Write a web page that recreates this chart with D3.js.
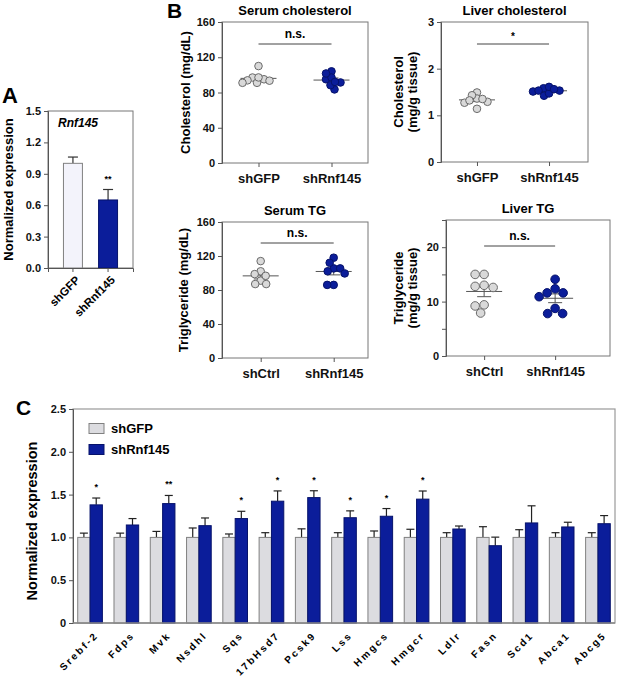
<!DOCTYPE html>
<html>
<head>
<meta charset="utf-8">
<script src="https://cdn.jsdelivr.net/npm/d3@7"></script>
<style>
  body { margin: 0; background: #fff; }
  svg { display: block; font-family: Arial, "Liberation Sans", sans-serif; font-weight: bold; }
</style>
</head>
<body>
<svg id="fig" width="617" height="678"></svg>
<script>
// ---- panel A data
const aGroups = ["shGFP", "shRnf145"];
const aMeans = [1.0, 0.65];
const aErr = [0.06, 0.10];
const aTicks = [0, 0.3, 0.6, 0.9, 1.2, 1.5];

// ---- panel B data (individual animals)
const serumCholGFP = [97, 95, 93.8, 91, 91, 93.4, 97.1, 110];
const serumCholRnf = [104, 91.4, 95, 83.5, 88.3, 97, 101.6, 92];
const liverCholGFP = [1.49, 1.29, 1.36, 1.14, 1.27, 1.43, 1.35, 1.32];
const liverCholRnf = [1.51, 1.58, 1.53, 1.42, 1.47, 1.61, 1.53, 1.56];
const serumTgCtrl = [114, 102, 98.7, 91, 87, 87, 96.7];
const serumTgRnf = [118, 105.4, 112, 102, 105.4, 99.5, 86, 86];
const liverTgCtrl = [15, 15, 12.8, 12.6, 13, 9.4, 9.2, 7.9];
const liverTgRnf = [14.1, 12.35, 11.6, 11.6, 10.9, 8.75, 7.8, 7.8];

// ---- panel C data
const genes = ["Srebf-2", "Fdps", "Mvk", "Nsdhl", "Sqs", "17bHsd7", "Pcsk9", "Lss",
  "Hmgcs", "Hmgcr", "Ldlr", "Fasn", "Scd1", "Abca1", "Abcg5"];
const gfpVals = [1, 1, 1, 1, 1, 1, 1, 1, 1, 1, 1, 1, 1, 1, 1];
const gfpErr = [0.05, 0.05, 0.07, 0.11, 0.04, 0.055, 0.10, 0.055, 0.075, 0.095, 0.055, 0.125, 0.09, 0.055, 0.055];
const rnfVals = [1.38, 1.145, 1.395, 1.137, 1.22, 1.423, 1.465, 1.23, 1.247, 1.447, 1.098, 0.903, 1.169, 1.122, 1.16];
const rnfErr = [0.08, 0.075, 0.095, 0.09, 0.085, 0.12, 0.08, 0.08, 0.09, 0.095, 0.035, 0.10, 0.20, 0.055, 0.095];
const rnfSig = ["*", "", "**", "", "*", "*", "*", "*", "*", "*", "", "", "", "", ""];
const cTicks = [0, 0.5, 1.0, 1.5, 2.0, 2.5];

const BLUE = "#0b1d9a", BLUE_DARK = "#06126a";
const GREY_FILL = "#dcdce0", GREY_LINE = "#808080";
const AX = "#555", BORDER = "#777";

const svg = d3.select("#fig");

function styleAxis(g) {
  g.select(".domain").attr("stroke", AX);
  g.selectAll(".tick line").attr("stroke", AX);
  g.selectAll(".tick text").attr("fill", "#111").attr("font-weight", "bold");
}

function panelLabel(txt, x, y, size) {
  svg.append("text").attr("x", x).attr("y", y).attr("font-size", size)
    .attr("fill", "#000").text(txt);
}

// ================= PANEL A =================
(function () {
  const L = 48, R = 133, T = 111, B = 268;
  const x = d3.scaleBand().domain(aGroups).range([L, R]).paddingInner(0.46).paddingOuter(0.44);
  const y = d3.scaleLinear().domain([0, 1.5]).range([B, T]);
  const g = svg.append("g");

  g.append("rect").attr("x", L).attr("y", T).attr("width", R - L).attr("height", B - T)
    .attr("fill", "none").attr("stroke", BORDER);

  // error bars (up only)
  aGroups.forEach((k, i) => {
    const cx = x(k) + x.bandwidth() / 2;
    g.append("line").attr("x1", cx).attr("x2", cx).attr("y1", y(aMeans[i])).attr("y2", y(aMeans[i] + aErr[i]))
      .attr("stroke", "#333").attr("stroke-width", 1.2);
    g.append("line").attr("x1", cx - 5).attr("x2", cx + 5).attr("y1", y(aMeans[i] + aErr[i])).attr("y2", y(aMeans[i] + aErr[i]))
      .attr("stroke", "#333").attr("stroke-width", 1.2);
  });
  g.selectAll("rect.bar").data(aGroups).join("rect").attr("class", "bar")
    .attr("x", d => x(d)).attr("width", x.bandwidth())
    .attr("y", (d, i) => y(aMeans[i])).attr("height", (d, i) => B - y(aMeans[i]))
    .attr("fill", (d, i) => i === 0 ? "#f3f3fb" : BLUE)
    .attr("stroke", (d, i) => i === 0 ? GREY_LINE : BLUE_DARK);

  g.append("text").attr("x", x(aGroups[1]) + x.bandwidth() / 2).attr("y", y(aMeans[1] + aErr[1]) - 8)
    .attr("text-anchor", "middle").attr("font-size", 9).text("**");

  g.append("g").attr("transform", `translate(${L},0)`)
    .call(d3.axisLeft(y).tickValues(aTicks).tickFormat(d3.format(".1f")).tickSize(4).tickPadding(3))
    .call(styleAxis).attr("font-size", 11);
  g.append("g").attr("transform", `translate(0,${B})`)
    .call(d3.axisBottom(x).tickSize(4).tickFormat(""))
    .call(styleAxis);

  aGroups.forEach(k => {
    g.append("text").attr("transform", `translate(${x(k) + x.bandwidth() / 2 + 2},${B + 7}) rotate(-45)`)
      .attr("text-anchor", "end").attr("font-size", 11.5).attr("dy", "0.7em").text(k);
  });

  g.append("text").attr("x", L + 10).attr("y", T + 16).attr("font-style", "italic").attr("font-size", 12).text("Rnf145");

  g.append("text").attr("transform", `translate(13,${(T + B) / 2}) rotate(-90)`)
    .attr("text-anchor", "middle").attr("font-size", 13).text("Normalized expression");

  panelLabel("A", 2, 103, 22);
})();

// ================= PANEL B =================
// simple beeswarm: points may overlap a little (overlap factor k)
function swarm(vals, y, r, k) {
  const pts = vals.map(v => ({ v, py: y(v), dx: 0 }));
  const order = pts.slice().sort((a, b) => a.py - b.py);
  const placed = [];
  const dmin = k * r;
  order.forEach(p => {
    for (let s = 0; s < 200; s++) {
      const off = (s % 2 === 0 ? 1 : -1) * Math.ceil(s / 2) * 0.5;
      const ok = placed.every(q => Math.hypot(q.dx - off, q.py - p.py) >= dmin);
      if (ok) { p.dx = off; break; }
    }
    placed.push(p);
  });
  return pts;
}

function scatterPanel(cfg) {
  const { L, R, T, B, domain, ticks, labelTicks, cats, groups, title, ylab, pad, align, r, sig } = cfg;
  const g = svg.append("g");
  const x = d3.scalePoint().domain(cats).range([L, R]).padding(pad).align(align);
  const y = d3.scaleLinear().domain(domain).range([B, T]);

  g.append("rect").attr("x", L).attr("y", T).attr("width", R - L).attr("height", B - T)
    .attr("fill", "none").attr("stroke", BORDER);

  g.append("g").attr("transform", `translate(${L},0)`)
    .call(d3.axisLeft(y).tickValues(ticks).tickSize(4).tickPadding(3)
      .tickFormat(d => labelTicks.includes(d) ? d3.format("d")(d) : ""))
    .call(styleAxis).attr("font-size", 11);
  g.append("g").attr("transform", `translate(0,${B})`)
    .call(d3.axisBottom(x).tickSize(4).tickPadding(7))
    .call(styleAxis).attr("font-size", 13)
    .call(a => a.select(".domain").remove());

  groups.forEach((vals, gi) => {
    const cx = x(cats[gi]);
    const m = d3.mean(vals);
    const sem = d3.deviation(vals) / Math.sqrt(vals.length);
    const pts = swarm(vals, y, r, cfg.k);
    const mg = g.append("g").attr("stroke", "#555").attr("stroke-width", 1);
    mg.append("line").attr("x1", cx - 18).attr("x2", cx + 18).attr("y1", y(m)).attr("y2", y(m));
    mg.append("line").attr("x1", cx).attr("x2", cx).attr("y1", y(m - sem)).attr("y2", y(m + sem));
    [m - sem, m + sem].forEach(v => mg.append("line").attr("x1", cx - 7).attr("x2", cx + 7).attr("y1", y(v)).attr("y2", y(v)));
    g.selectAll(null).data(pts).join("circle")
      .attr("cx", d => cx + d.dx).attr("cy", d => d.py).attr("r", r)
      .attr("fill", gi === 0 ? "#d9d9d9" : BLUE)
      .attr("stroke", gi === 0 ? "#6a6a6a" : BLUE_DARK).attr("stroke-width", 1);
  });

  // significance bar
  const sy = cfg.sigY;
  g.append("line").attr("x1", x(cats[0])).attr("x2", x(cats[1])).attr("y1", sy).attr("y2", sy)
    .attr("stroke", "#444").attr("stroke-width", 1);
  g.append("text").attr("x", (x(cats[0]) + x(cats[1])) / 2).attr("y", sig === "*" ? sy - 4 : sy - 6)
    .attr("text-anchor", "middle").attr("font-size", sig === "*" ? 10 : 12).text(sig);

  g.append("text").attr("x", (L + R) / 2).attr("y", cfg.titleY).attr("text-anchor", "middle")
    .attr("font-size", 13).text(title);

  const yt = g.append("text").attr("transform", `translate(${L - cfg.ylabOff},${(T + B) / 2}) rotate(-90)`)
    .attr("text-anchor", "middle").attr("font-size", 13);
  ylab.forEach((line, i) => yt.append("tspan").attr("x", 0).attr("dy", i === 0 ? (ylab.length > 1 ? "-0.45em" : "0.35em") : "1.05em").text(line));
}

scatterPanel({
  L: 222, R: 368, T: 22, B: 163, domain: [0, 160], ticks: [0, 40, 80, 120, 160], labelTicks: [0, 40, 80, 120, 160],
  cats: ["shGFP", "shRnf145"], groups: [serumCholGFP, serumCholRnf], pad: 0.5, align: 0.5, r: 3.8, k: 1.45,
  title: "Serum cholesterol", titleY: 15, ylab: ["Cholesterol (mg/dL)"], ylabOff: 37, sig: "n.s.", sigY: 44
});
scatterPanel({
  L: 441, R: 588, T: 22, B: 162, domain: [0, 3], ticks: [0, 1, 2, 3], labelTicks: [0, 1, 2, 3],
  cats: ["shGFP", "shRnf145"], groups: [liverCholGFP, liverCholRnf], pad: 0.52, align: 0.48, r: 3.8, k: 1.45,
  title: "Liver cholesterol", titleY: 15, ylab: ["Cholesterol", "(mg/g tissue)"], ylabOff: 32, sig: "*", sigY: 44
});
scatterPanel({
  L: 222, R: 368, T: 222, B: 358, domain: [0, 160], ticks: [0, 40, 80, 120, 160], labelTicks: [0, 40, 80, 120, 160],
  cats: ["shCtrl", "shRnf145"], groups: [serumTgCtrl, serumTgRnf], pad: 0.5, align: 0.53, r: 3.8, k: 1.7,
  title: "Serum TG", titleY: 215, ylab: ["Triglyceride (mg/dL)"], ylabOff: 39, sig: "n.s.", sigY: 243
});
scatterPanel({
  L: 446, R: 610, T: 220, B: 356, domain: [0, 25], ticks: [0, 5, 10, 15, 20, 25], labelTicks: [0, 10, 20],
  cats: ["shCtrl", "shRnf145"], groups: [liverTgCtrl, liverTgRnf], pad: 0.655, align: 0.41, r: 4.3, k: 2.05,
  title: "Liver TG", titleY: 213, ylab: ["Triglyceride", "(mg/g tissue)"], ylabOff: 37, sig: "n.s.", sigY: 246
});

panelLabel("B", 167, 18, 21);

// ================= PANEL C =================
(function () {
  const L = 73, R = 615, T = 409, B = 623;
  const g = svg.append("g");
  const x0 = d3.scaleBand().domain(genes).range([L, R]).paddingInner(0.32).paddingOuter(0.13);
  const x1 = d3.scaleBand().domain(["gfp", "rnf"]).range([0, x0.bandwidth()]);
  const y = d3.scaleLinear().domain([0, 2.5]).range([B, T]);

  g.append("rect").attr("x", L).attr("y", T).attr("width", R - L).attr("height", B - T)
    .attr("fill", "none").attr("stroke", "#999").attr("stroke-width", 1.2);

  const series = [
    { key: "gfp", vals: gfpVals, err: gfpErr, fill: GREY_FILL, stroke: GREY_LINE },
    { key: "rnf", vals: rnfVals, err: rnfErr, fill: BLUE, stroke: BLUE_DARK }
  ];

  series.forEach(s => {
    genes.forEach((gn, i) => {
      const cx = x0(gn) + x1(s.key) + x1.bandwidth() / 2;
      const top = y(s.vals[i] + s.err[i]);
      g.append("line").attr("x1", cx).attr("x2", cx).attr("y1", y(s.vals[i])).attr("y2", top)
        .attr("stroke", "#222").attr("stroke-width", 1.2);
      g.append("line").attr("x1", cx - 4).attr("x2", cx + 4).attr("y1", top).attr("y2", top)
        .attr("stroke", "#222").attr("stroke-width", 1.2);
    });
    g.selectAll(null).data(genes).join("rect")
      .attr("x", d => x0(d) + x1(s.key)).attr("width", x1.bandwidth())
      .attr("y", (d, i) => y(s.vals[i])).attr("height", (d, i) => B - y(s.vals[i]))
      .attr("fill", s.fill).attr("stroke", s.stroke).attr("stroke-width", 1);
  });

  genes.forEach((gn, i) => {
    if (!rnfSig[i]) return;
    g.append("text").attr("x", x0(gn) + x1("rnf") + x1.bandwidth() / 2)
      .attr("y", y(rnfVals[i] + rnfErr[i]) - 8).attr("text-anchor", "middle")
      .attr("font-size", 9).text(rnfSig[i]);
  });

  g.append("g").attr("transform", `translate(${L},0)`)
    .call(d3.axisLeft(y).tickValues(cTicks).tickSize(4).tickPadding(3)
      .tickFormat(d => d === 0 ? "0" : d3.format(".1f")(d)))
    .call(styleAxis).attr("font-size", 11);
  g.append("line").attr("x1", L).attr("x2", R).attr("y1", B).attr("y2", B).attr("stroke", "#888").attr("stroke-width", 1.5);

  genes.forEach(gn => {
    const cx = x0(gn) + x0.bandwidth() / 2;
    g.append("text").attr("transform", `translate(${cx + 4},${B + 8}) rotate(-45)`)
      .attr("text-anchor", "end").attr("font-size", 10).attr("letter-spacing", 2.2)
      .attr("dy", "0.7em").text(gn);
  });

  // legend
  const leg = [["shGFP", GREY_FILL, GREY_LINE], ["shRnf145", BLUE, BLUE_DARK]];
  leg.forEach((d, i) => {
    g.append("rect").attr("x", 89).attr("y", 423.5 + i * 21).attr("width", 15).attr("height", 10)
      .attr("fill", d[1]).attr("stroke", d[2]);
    g.append("text").attr("x", 111).attr("y", 433 + i * 21).attr("font-size", 13).text(d[0]);
  });

  g.append("text").attr("transform", `translate(37,${(T + B) / 2 + 5}) rotate(-90)`)
    .attr("text-anchor", "middle").attr("font-size", 14.5).text("Normalized expression");

  panelLabel("C", 16, 415, 21);
})();
</script>
</body>
</html>
